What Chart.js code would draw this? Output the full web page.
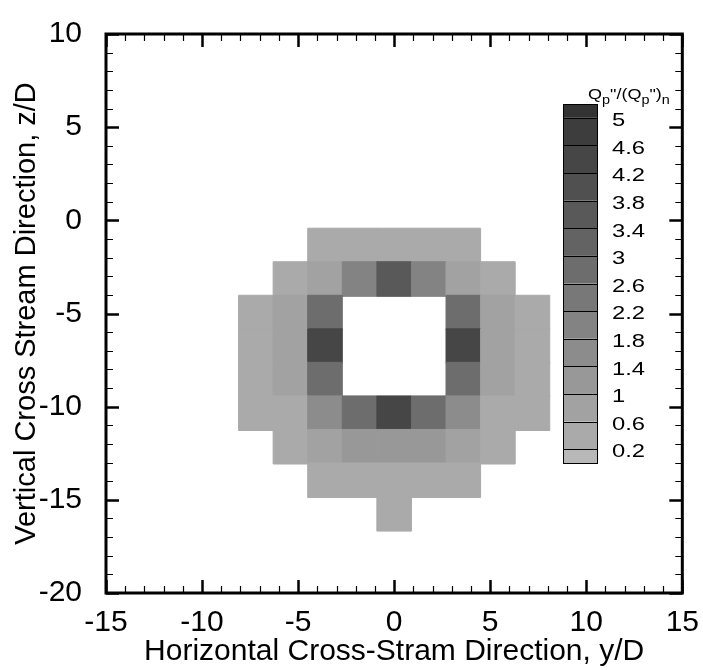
<!DOCTYPE html>
<html><head><meta charset="utf-8">
<script src="https://cdn.jsdelivr.net/npm/chart.js@4.4.0/dist/chart.umd.min.js"></script>
<style>html,body{margin:0;padding:0;background:#fff}#wrap{width:703px;height:670px;position:relative}</style>
</head><body><div id="wrap"><canvas id="c"></canvas></div>
<script>
// cell centres (data units)
const yColumns = [-7.2, -5.4, -3.6, -1.8, 0, 1.8, 3.6, 5.4, 7.2];
const zRows = [-1.35, -3.15, -4.95, -6.75, -8.55, -10.35, -12.15, -13.95, -15.75];
const cellSize = 1.8;
// Qp''/(Qp'')n per row (null = no cell)
const row0 = [null, null, 0.4, 0.4, 0.4, 0.4, 0.4, null, null];
const row1 = [null, 0.4, 0.8, 2.0, 3.6, 2.0, 0.8, 0.4, null];
const row2 = [0.4, 0.8, 2.8, null, null, null, 2.8, 0.8, 0.4];
const row3 = [0.4, 0.8, 4.4, null, null, null, 4.4, 0.8, 0.4];
const row4 = [0.4, 0.8, 2.8, null, null, null, 2.8, 0.8, 0.4];
const row5 = [0.4, 0.4, 1.6, 2.8, 4.4, 2.8, 1.6, 0.4, 0.4];
const row6 = [null, 0.4, 0.8, 1.2, 1.2, 1.2, 0.8, 0.4, null];
const row7 = [null, null, 0.4, 0.4, 0.4, 0.4, 0.4, null, null];
const row8 = [null, null, null, null, 0.4, null, null, null, null];
const rows = [row0, row1, row2, row3, row4, row5, row6, row7, row8];
const levels = [0.2, 0.6, 1, 1.4, 1.8, 2.2, 2.6, 3, 3.4, 3.8, 4.2, 4.6, 5];
const bandColors = ['#b8b8b8', '#aaaaaa', '#a2a2a2', '#989898', '#8c8c8c', '#838383', '#787878',
  '#6d6d6d', '#636363', '#595959', '#505050', '#464646', '#3d3d3d', '#333333'];
const xRange = [-15, 15];
const yRange = [-20, 10];
const xTitle = 'Horizontal Cross-Stram Direction, y/D';
const yTitle = 'Vertical Cross Stream Direction, z/D';

function colorFor(v) {
  let i = 0;
  while (i < levels.length && v >= levels[i]) i++;
  return bandColors[i];
}

const cells = [];
rows.forEach((r, ri) => r.forEach((v, ci) => {
  if (v !== null) cells.push({ x: yColumns[ci], y: zRows[ri], v: v });
}));

const FONT = '"Liberation Sans", Arial, Helvetica, sans-serif';

const frameTicks = {
  id: 'frameTicks',
  afterDraw(chart) {
    const { ctx, chartArea: a, scales: { x, y } } = chart;
    ctx.save();
    ctx.strokeStyle = '#000';
    ctx.lineCap = 'butt';
    x.ticks.forEach(t => {
      const p = Math.round(x.getPixelForValue(t.value)) + 0.5;
      const major = t.value % 5 === 0;
      const L = major ? 13 : 7;
      ctx.lineWidth = major ? 2.5 : 1.2;
      ctx.beginPath();
      ctx.moveTo(p, a.bottom); ctx.lineTo(p, a.bottom - L);
      ctx.moveTo(p, a.top); ctx.lineTo(p, a.top + L);
      ctx.stroke();
    });
    y.ticks.forEach(t => {
      const p = Math.round(y.getPixelForValue(t.value)) + 0.5;
      const major = t.value % 5 === 0;
      const L = major ? 13 : 7;
      ctx.lineWidth = major ? 2.5 : 1.2;
      ctx.beginPath();
      ctx.moveTo(a.left, p); ctx.lineTo(a.left + L, p);
      ctx.moveTo(a.right, p); ctx.lineTo(a.right - L, p);
      ctx.stroke();
    });
    ctx.lineWidth = 3;
    ctx.strokeRect(a.left, a.top, a.right - a.left, a.bottom - a.top);
    ctx.restore();
  }
};

function wideText(ctx, s, x, y, sx) {
  ctx.save();
  ctx.translate(x, y);
  ctx.scale(sx, 1);
  ctx.fillText(s, 0, 0);
  const w = ctx.measureText(s).width * sx;
  ctx.restore();
  return w;
}

const contourLegend = {
  id: 'contourLegend',
  afterDraw(chart) {
    const ctx = chart.ctx;
    const left = 563, right = 597, top = 104, bottom = 463;
    const unit = (bottom - top) / levels.length;
    ctx.save();
    const n = bandColors.length;
    const bounds = [top];
    for (let k = 0; k < levels.length; k++) bounds.push(top + unit / 2 + k * unit);
    bounds.push(bottom);
    for (let k = 0; k < n; k++) {
      ctx.fillStyle = bandColors[n - 1 - k];
      ctx.fillRect(left, bounds[k], right - left, bounds[k + 1] - bounds[k]);
    }
    ctx.strokeStyle = '#000';
    ctx.lineWidth = 1;
    for (let k = 1; k < bounds.length - 1; k++) {
      const yy = Math.round(bounds[k]) + 0.5;
      ctx.beginPath(); ctx.moveTo(left, yy); ctx.lineTo(right, yy); ctx.stroke();
    }
    ctx.strokeRect(left + 0.5, top + 0.5, right - left, bottom - top);
    ctx.fillStyle = '#000';
    ctx.font = '19px ' + FONT;
    ctx.textAlign = 'left';
    ctx.textBaseline = 'middle';
    const labs = levels.slice().reverse();
    labs.forEach((lv, k) => {
      wideText(ctx, String(lv), 612, bounds[k + 1] + 3, 1.25);
    });
    // title Qp"/(Qp")n
    const parts = [['Q', 0], ['p', 1], ['"/(Q', 0], ['p', 1], ['")', 0], ['n', 1]];
    let xx = 588;
    const base = 99;
    ctx.textBaseline = 'alphabetic';
    parts.forEach(([s, sub]) => {
      ctx.font = (sub ? '12px ' : '15px ') + FONT;
      xx += wideText(ctx, s, xx, sub ? base + 5 : base, 1.2);
    });
    ctx.restore();
  }
};

new Chart(document.getElementById('c'), {
  type: 'scatter',
  data: {
    datasets: [{
      data: cells,
      pointStyle: 'rect',
      radius: (c) => {
        const s = c.chart.scales.x;
        return Math.abs(s.getPixelForValue(cellSize) - s.getPixelForValue(0)) / 2 / Math.SQRT1_2;
      },
      backgroundColor: (c) => c.raw ? colorFor(c.raw.v) : '#aaa',
      borderColor: (c) => c.raw ? colorFor(c.raw.v) : '#aaa',
      borderWidth: 1
    }]
  },
  options: {
    responsive: true,
    maintainAspectRatio: false,
    animation: false,
    events: [],
    layout: { padding: { left: 0, top: 17, right: 20, bottom: 0 } },
    plugins: { legend: { display: false }, tooltip: { enabled: false } },
    scales: {
      x: {
        type: 'linear', min: xRange[0], max: xRange[1],
        grid: { display: false }, border: { display: false },
        ticks: {
          stepSize: 1, autoSkip: false, maxRotation: 0, padding: 4,
          color: '#000', font: { family: FONT, size: 30 },
          callback: v => (v % 5 === 0 ? String(v) : '')
        },
        title: { display: true, text: xTitle, color: '#000', font: { family: FONT, size: 30 }, padding: { top: 0, bottom: 0 } },
        afterFit: s => { s.height = 77; }
      },
      y: {
        type: 'linear', min: yRange[0], max: yRange[1],
        grid: { display: false }, border: { display: false },
        ticks: {
          stepSize: 1, autoSkip: false, padding: 16,
          color: '#000', font: { family: FONT, size: 30 },
          callback: v => (v % 5 === 0 ? String(v) : '')
        },
        title: { display: true, text: yTitle, color: '#000', font: { family: FONT, size: 29 }, padding: { top: 10, bottom: 0 } },
        afterFit: s => { s.width = 106; }
      }
    }
  },
  plugins: [frameTicks, contourLegend]
});
</script>
</body></html>
